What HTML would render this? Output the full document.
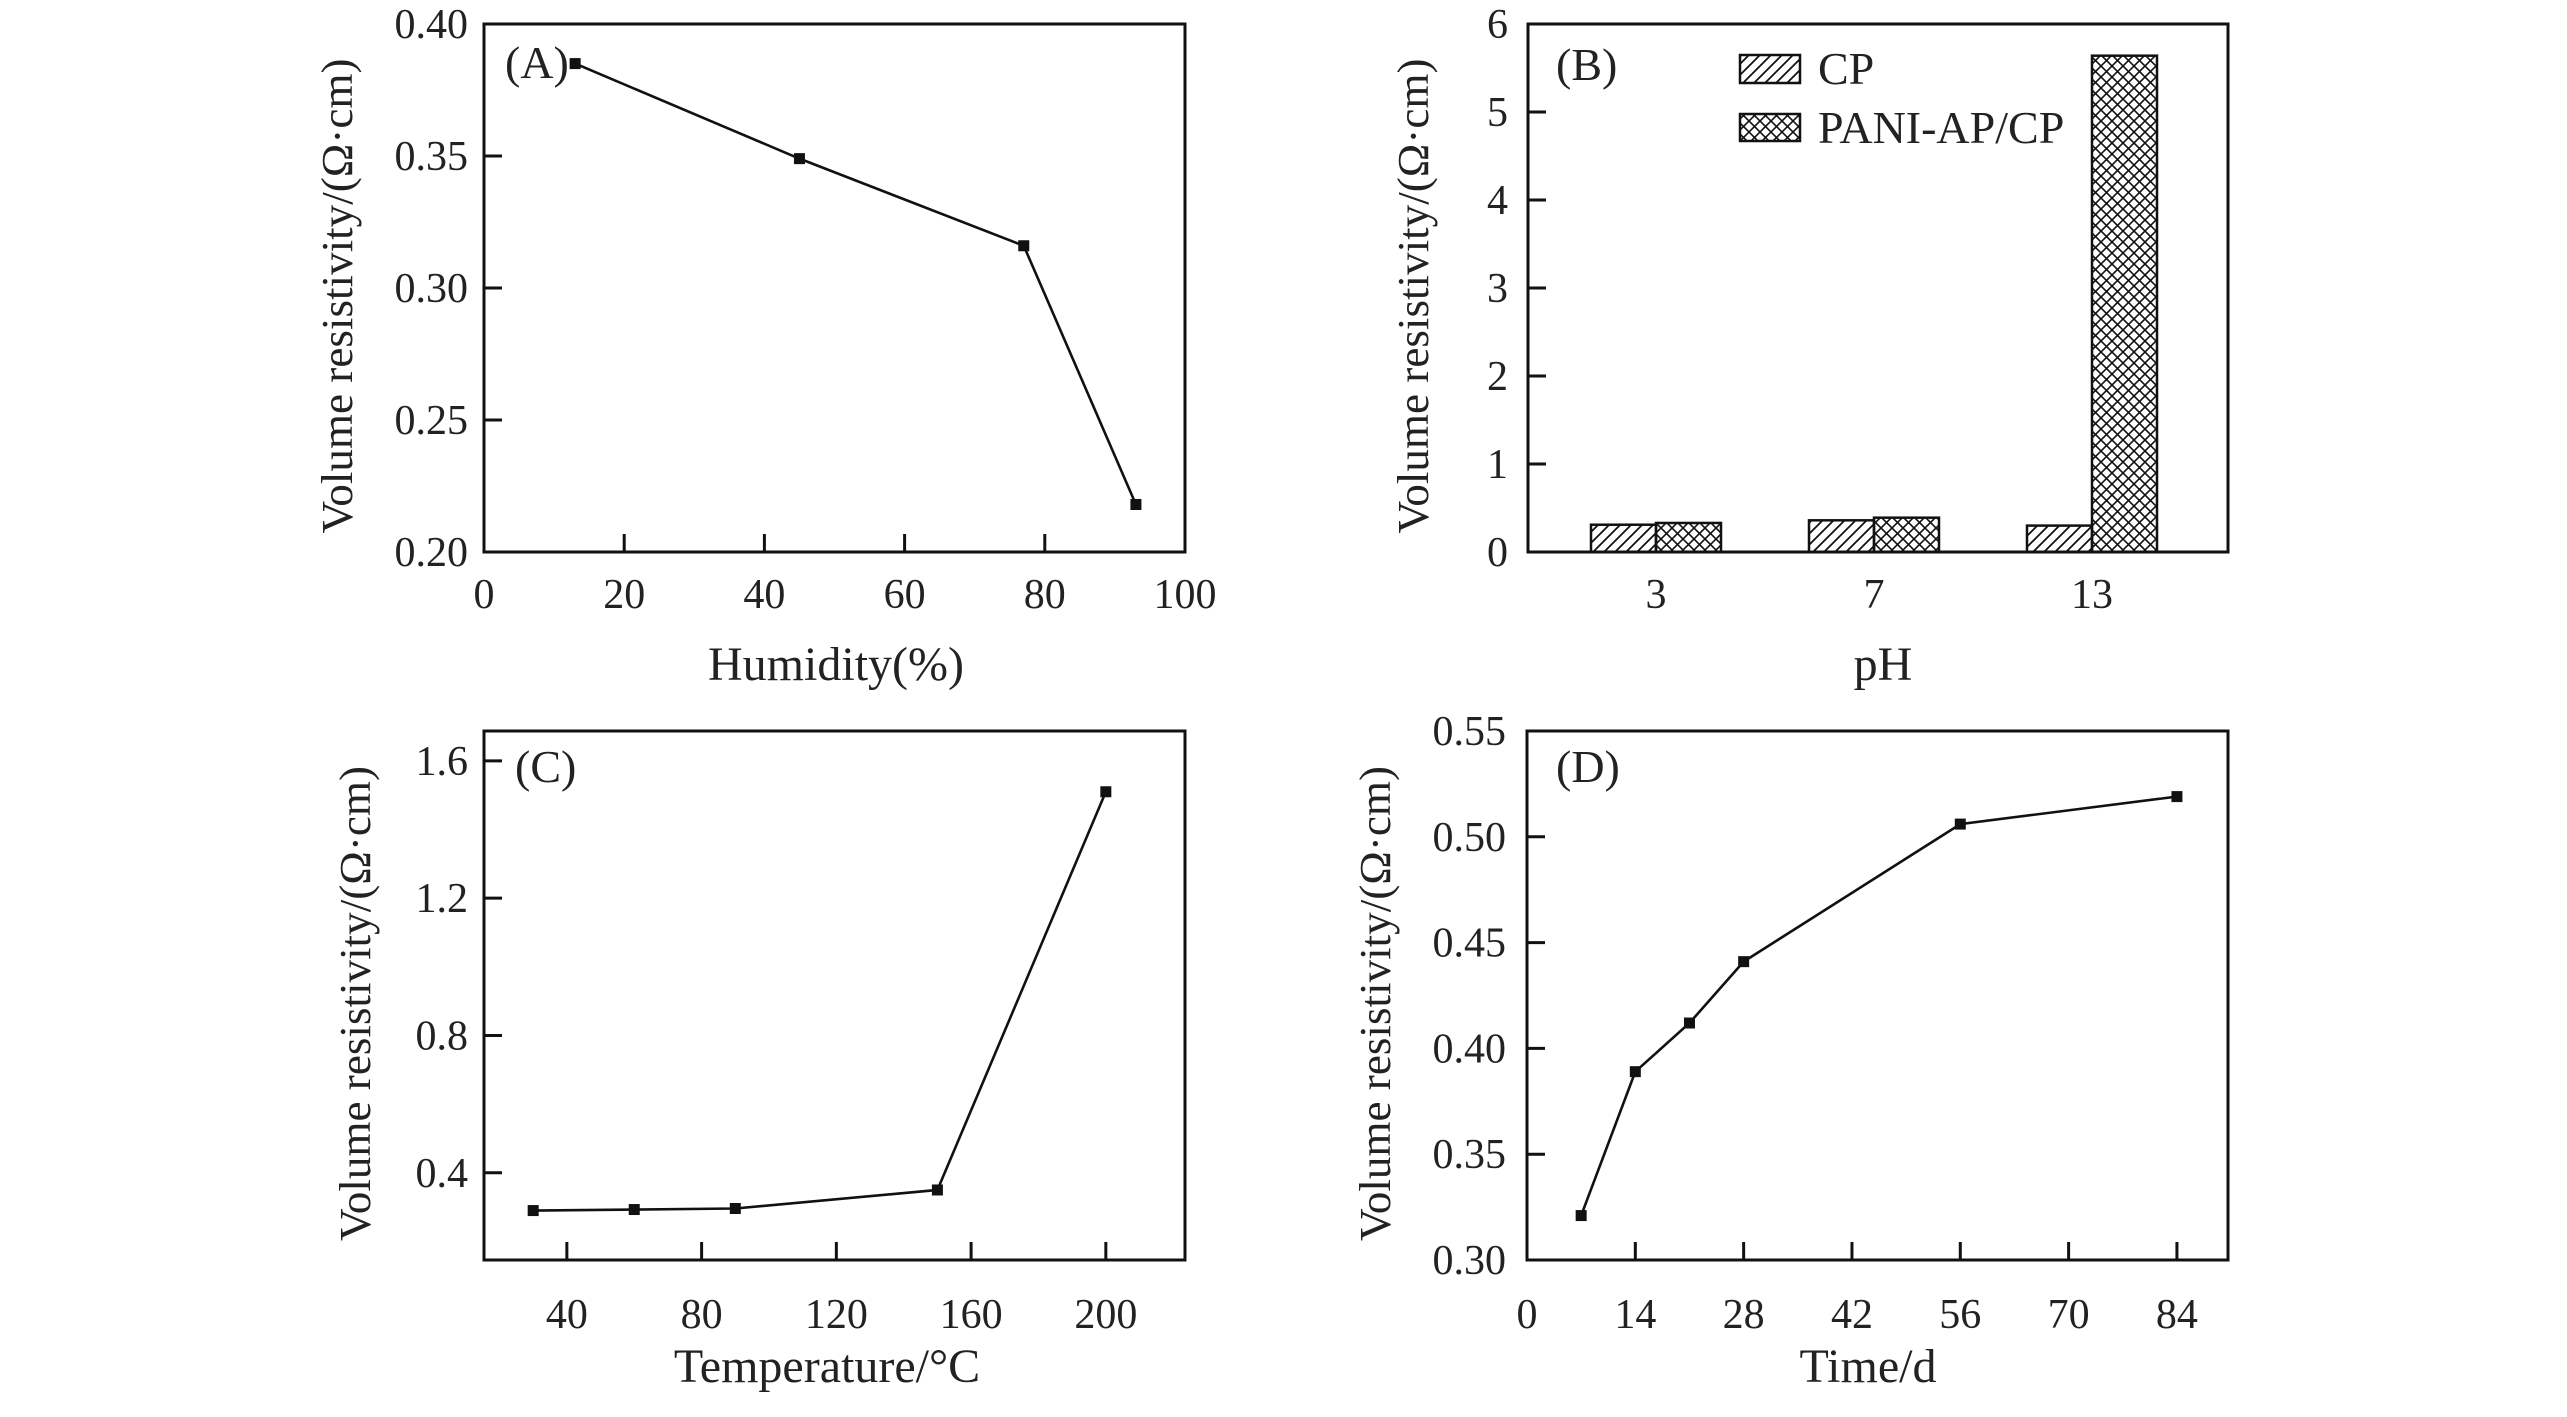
<!DOCTYPE html>
<html><head><meta charset="utf-8"><style>
html,body{margin:0;padding:0;background:#fff;}
svg{display:block;font-family:"Liberation Serif",serif;}
</style></head><body>
<svg id="fig" width="2567" height="1417" viewBox="0 0 2567 1417" xmlns="http://www.w3.org/2000/svg">
<defs>
<pattern id="hatchCP" patternUnits="userSpaceOnUse" width="11" height="11">
<path d="M-2,13 L13,-2 M-2,2 L2,-2 M9,13 L13,9" stroke="#111" stroke-width="1.8"/>
</pattern>
<pattern id="hatchPANI" patternUnits="userSpaceOnUse" width="11" height="11">
<path d="M-2,13 L13,-2 M-2,2 L2,-2 M9,13 L13,9 M-2,-2 L13,13 M-2,9 L2,13 M9,-2 L13,2" stroke="#111" stroke-width="1.6"/>
</pattern>
</defs>
</svg>
<script>
// Panel A data
const humidityX = [13, 45, 77, 93];
const humidityY = [0.385, 0.349, 0.316, 0.218];
const humidityXTicks = [0, 20, 40, 60, 80, 100];
const humidityYTicks = [0.20, 0.25, 0.30, 0.35, 0.40];
const humidityYLabels = ["0.20", "0.25", "0.30", "0.35", "0.40"];
// Panel B data
const phCategories = ["3", "7", "13"];
const cpValues = [0.31, 0.36, 0.30];
const paniValues = [0.33, 0.39, 5.64];
const phYTicks = [0, 1, 2, 3, 4, 5, 6];
// Panel C data
const tempX = [30, 60, 90, 150, 200];
const tempY = [0.29, 0.293, 0.296, 0.35, 1.51];
const tempXTicks = [40, 80, 120, 160, 200];
const tempYTicks = [0.4, 0.8, 1.2, 1.6];
const tempYLabels = ["0.4", "0.8", "1.2", "1.6"];
// Panel D data
const timeX = [7, 14, 21, 28, 56, 84];
const timeY = [0.321, 0.389, 0.412, 0.441, 0.506, 0.519];
const timeXTicks = [0, 14, 28, 42, 56, 70, 84];
const timeYTicks = [0.30, 0.35, 0.40, 0.45, 0.50, 0.55];
const timeYLabels = ["0.30", "0.35", "0.40", "0.45", "0.50", "0.55"];

const NS = "http://www.w3.org/2000/svg";
const svg = document.getElementById("fig");
function mk(tag, attrs, parent, text) {
  const e = document.createElementNS(NS, tag);
  for (const k in attrs) e.setAttribute(k, attrs[k]);
  if (text !== undefined) e.textContent = text;
  (parent || svg).appendChild(e);
  return e;
}
function scale(d0, d1, r0, r1) { return v => r0 + (v - d0) / (d1 - d0) * (r1 - r0); }

function panel(cfg) {
  const g = mk("g", {});
  
  
  const {L, R, T, B} = cfg;
  const sx = scale(cfg.xmin, cfg.xmax, L, R);
  const sy = scale(cfg.ymin, cfg.ymax, B, T);
  const fr = mk("rect", {x: L, y: T, width: R - L, height: B - T, fill: "none", stroke: "#111", "stroke-width": 3}, g);
  
  
  cfg.yTicks.forEach((v, i) => {
    const y = sy(v);
    if (y < B - 2 && y > T + 2) {
      const t = mk("line", {x1: L, x2: L + 18, y1: y, y2: y, stroke: "#111", "stroke-width": 3}, g);
      
      
    }
    const lb = mk("text", {x: cfg.yLabelRight, y: y + 14, "text-anchor": "end", "font-size": 42, fill: "#222"}, g, cfg.yLabels ? cfg.yLabels[i] : String(v));
    
    
  });
  if (cfg.xTicks) cfg.xTicks.forEach(v => {
    const x = sx(v);
    if (x > L + 2 && x < R - 2) {
      const t = mk("line", {x1: x, x2: x, y1: B, y2: B - 18, stroke: "#111", "stroke-width": 3}, g);
      
      
    }
    const lb = mk("text", {x: x, y: cfg.xLabelY, "text-anchor": "middle", "font-size": 42, fill: "#222"}, g, String(v));
    
    
  });
  if (cfg.xs) {
    const pts = cfg.xs.map((x, i) => sx(x) + "," + sy(cfg.ys[i])).join(" ");
    const pl = mk("polyline", {points: pts, fill: "none", stroke: "#111", "stroke-width": 2.6}, g);
    
    
    cfg.xs.forEach((x, i) => {
      const m = mk("rect", {x: sx(x) - 5.5, y: sy(cfg.ys[i]) - 5.5, width: 11, height: 11, fill: "#111"}, g);
      
      
    });
  }
  const pl2 = mk("text", {x: cfg.letterX, y: cfg.letterY, "font-size": 46, fill: "#222"}, g, cfg.letter);
  
  
  const xt = mk("text", {x: cfg.xTitleX, y: cfg.xTitleY, "text-anchor": "middle", "font-size": 48, fill: "#222"}, g, cfg.xTitle);
  
  
  const cy = (T + B) / 2 + 8;
  const yt = mk("text", {x: 0, y: 0, "text-anchor": "middle", "font-size": 44, fill: "#222",
    textLength: 475, lengthAdjust: "spacingAndGlyphs",
    transform: `translate(${cfg.yTitleX},${cy}) rotate(-90)`}, g, "Volume resistivity/(Ω·cm)");
  
  
  return {g, sx, sy};
}

// Panel A
panel({name: "panel-a-humidity", L: 484, R: 1185, T: 24, B: 552, xmin: 0, xmax: 100, ymin: 0.20, ymax: 0.40,
  xTicks: humidityXTicks, yTicks: humidityYTicks, yLabels: humidityYLabels, yLabelRight: 468, xLabelY: 608,
  xs: humidityX, ys: humidityY, letter: "(A)", letterX: 505, letterY: 78,
  xTitle: "Humidity(%)", xTitleX: 836, xTitleY: 680, yTitleX: 352});

// Panel B
const pb = panel({name: "panel-b-ph", L: 1528, R: 2228, T: 24, B: 552, xmin: 0, xmax: 1, ymin: 0, ymax: 6,
  yTicks: phYTicks, yLabelRight: 1508, letter: "(B)", letterX: 1556, letterY: 80,
  xTitle: "pH", xTitleX: 1883, xTitleY: 680, yTitleX: 1428});
const catX = scale(0, 2, 1656, 2092);
const bw = 65;
phCategories.forEach((c, i) => {
  const cx = catX(i);
  const r1 = mk("rect", {x: cx - bw, y: pb.sy(cpValues[i]), width: bw, height: pb.sy(0) - pb.sy(cpValues[i]), fill: "url(#hatchCP)", stroke: "#111", "stroke-width": 2.5}, pb.g);
  
  
  const r2 = mk("rect", {x: cx, y: pb.sy(paniValues[i]), width: bw, height: pb.sy(0) - pb.sy(paniValues[i]), fill: "url(#hatchPANI)", stroke: "#111", "stroke-width": 2.5}, pb.g);
  
  
  const lb = mk("text", {x: cx, y: 608, "text-anchor": "middle", "font-size": 42, fill: "#222"}, pb.g, c);
  
  
});
const lg = mk("g", {});


const l1 = mk("rect", {x: 1740, y: 55, width: 60, height: 28, fill: "url(#hatchCP)", stroke: "#111", "stroke-width": 2.5}, lg);


const t1 = mk("text", {x: 1818, y: 84, "font-size": 46, fill: "#222"}, lg, "CP");


const l2 = mk("rect", {x: 1740, y: 114, width: 60, height: 27, fill: "url(#hatchPANI)", stroke: "#111", "stroke-width": 2.5}, lg);


const t2 = mk("text", {x: 1818, y: 143, "font-size": 46, fill: "#222"}, lg, "PANI-AP/CP");



// Panel C
panel({name: "panel-c-temperature", L: 484, R: 1185, T: 731, B: 1260, xmin: 15.4, xmax: 223.5, ymin: 0.146, ymax: 1.687,
  xTicks: tempXTicks, yTicks: tempYTicks, yLabels: tempYLabels, yLabelRight: 468, xLabelY: 1328,
  xs: tempX, ys: tempY, letter: "(C)", letterX: 515, letterY: 782,
  xTitle: "Temperature/°C", xTitleX: 827, xTitleY: 1382, yTitleX: 370});

// Panel D
panel({name: "panel-d-time", L: 1527, R: 2228, T: 731, B: 1260, xmin: 0, xmax: 90.6, ymin: 0.30, ymax: 0.55,
  xTicks: timeXTicks, yTicks: timeYTicks, yLabels: timeYLabels, yLabelRight: 1506, xLabelY: 1328,
  xs: timeX, ys: timeY, letter: "(D)", letterX: 1556, letterY: 782,
  xTitle: "Time/d", xTitleX: 1868, xTitleY: 1382, yTitleX: 1390});
</script>
</body></html>
